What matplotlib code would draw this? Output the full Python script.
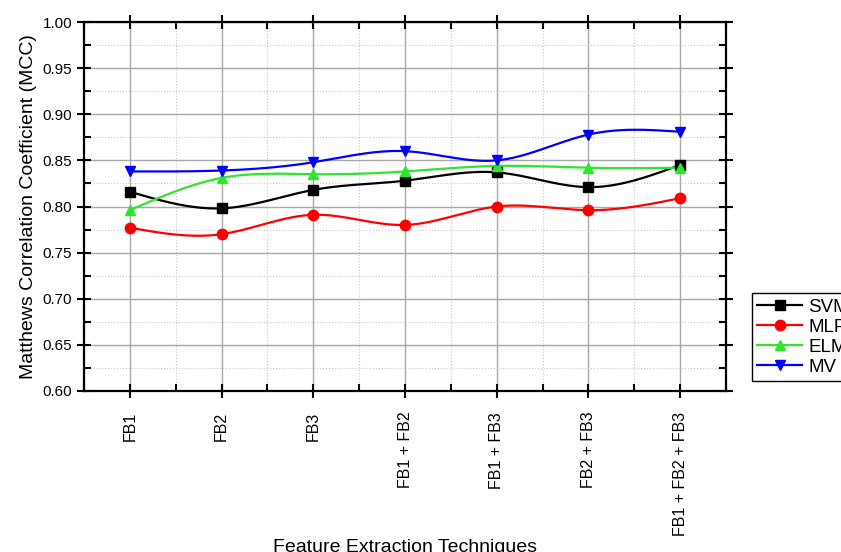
import numpy as np
import matplotlib
matplotlib.use("Agg")
import matplotlib.pyplot as plt
from matplotlib.ticker import MultipleLocator

plt.rcParams['font.family'] = ['Liberation Sans', 'DejaVu Sans']

techniques = ["FB1", "FB2", "FB3", "FB1 + FB2", "FB1 + FB3", "FB2 + FB3",
              "FB1 + FB2 + FB3"]
svm = [0.816, 0.798, 0.818, 0.828, 0.837, 0.821, 0.845]
mlp = [0.777, 0.770, 0.791, 0.780, 0.800, 0.796, 0.809]
elm = [0.796, 0.831, 0.835, 0.838, 0.844, 0.842, 0.842]
mv = [0.838, 0.839, 0.848, 0.860, 0.850, 0.878, 0.881]


def natural_spline(x, y, n=200):
    # plain natural cubic spline, only used to draw the smooth connecting line
    x = np.asarray(x, float)
    y = np.asarray(y, float)
    k = len(x)
    h = np.diff(x)
    A = np.zeros((k, k))
    b = np.zeros(k)
    A[0, 0] = A[-1, -1] = 1
    for i in range(1, k - 1):
        A[i, i - 1] = h[i - 1]
        A[i, i] = 2 * (h[i - 1] + h[i])
        A[i, i + 1] = h[i]
        b[i] = 3 * ((y[i + 1] - y[i]) / h[i] - (y[i] - y[i - 1]) / h[i - 1])
    c = np.linalg.solve(A, b)
    xs = np.linspace(x[0], x[-1], n)
    idx = np.clip(np.searchsorted(x, xs) - 1, 0, k - 2)
    dx = xs - x[idx]
    hi = h[idx]
    bi = (y[idx + 1] - y[idx]) / hi - hi * (2 * c[idx] + c[idx + 1]) / 3
    di = (c[idx + 1] - c[idx]) / (3 * hi)
    ys = y[idx] + bi * dx + c[idx] * dx ** 2 + di * dx ** 3
    return xs, ys


fig = plt.figure(figsize=(8.41, 5.52), dpi=100)
ax = fig.add_axes([0.0999, 0.2917, 0.7634, 0.6684])

pos = np.arange(1, len(techniques) + 1)
series = [("SVM", svm, "black", "s"), ("MLP", mlp, "#ff0000", "o"),
          ("ELM", elm, "#2ee62e", "^"), ("MV", mv, "#0000ff", "v")]

handles = []
for name, vals, col, mk in series:
    xs, ys = natural_spline(pos, vals)
    ax.plot(xs, ys, color=col, lw=1.6, zorder=3)
    ax.plot(pos, vals, ls="none", marker=mk, color=col, ms=7.5, zorder=4)
    h, = ax.plot([], [], color=col, lw=1.6, marker=mk, ms=7.5, label=name)
    handles.append(h)

ax.set_xlim(0.5, 7.5)
ax.set_ylim(0.6, 1.0)
ax.set_xticks(pos)
ax.set_xticklabels(techniques, rotation=90, fontsize=11.5)
ax.xaxis.set_minor_locator(MultipleLocator(0.5))
ax.yaxis.set_major_locator(MultipleLocator(0.05))
ax.yaxis.set_minor_locator(MultipleLocator(0.025))
ax.yaxis.set_major_formatter(matplotlib.ticker.FormatStrFormatter("%.2f"))
ax.tick_params(axis="y", labelsize=11)

ax.tick_params(which="major", direction="inout", length=10, width=1.5,
               top=True, right=True, color="black")
ax.tick_params(which="minor", direction="in", length=5, width=1.5,
               top=True, right=True)
ax.tick_params(axis="x", which="major", pad=10)

ax.grid(which="major", color="#a8a8a8", lw=1, ls="-", zorder=0)
ax.grid(which="minor", color="#c8c8c8", lw=0.8, ls=":", zorder=0)
ax.set_axisbelow(True)
for s in ax.spines.values():
    s.set_linewidth(1.6)

ax.set_xlabel("Feature Extraction Techniques", fontsize=14, labelpad=2)
ax.set_ylabel("Matthews Correlation Coefficient (MCC)", fontsize=14)

leg = ax.legend(handles=handles, loc="upper left",
                bbox_to_anchor=(0.894, 0.4692), bbox_transform=fig.transFigure,
                fontsize=13.5, frameon=True, fancybox=False, edgecolor="black",
                framealpha=1, borderaxespad=0, handlelength=2.4,
                labelspacing=0.15, handletextpad=0.3, borderpad=0.3,
                numpoints=1)
leg.get_frame().set_linewidth(1)

fig.savefig("out.png", dpi=100)
